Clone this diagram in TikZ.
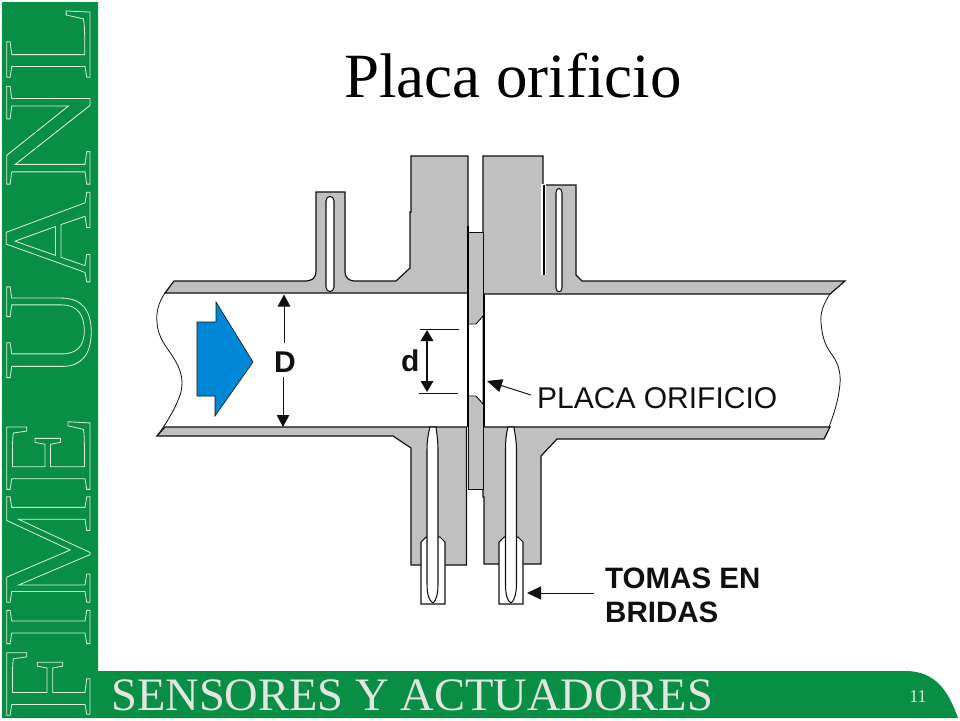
\documentclass[tikz,border=0pt]{standalone}
\usepackage{fontspec}
\setmainfont{Liberation Serif}
\newfontfamily\arialf{Liberation Sans}
\usetikzlibrary{arrows.meta}
\definecolor{uanlgreen}{HTML}{098F45}
\definecolor{bandtext}{HTML}{E2E6DE}
\definecolor{wall}{HTML}{C0C0C0}
\definecolor{flow}{HTML}{0088D6}
\definecolor{ink}{HTML}{101010}
\newcommand{\outlon}{\special{pdf:code 1 Tr 0.8 w 0.85 0.94 0.85 RG}}
\tikzset{
  wallshape/.style={fill=wall,draw=ink,line width=1.2pt,line join=miter},
  cutline/.style={draw=ink,line width=0.8pt},
  slotshape/.style={fill=white,draw=ink,line width=1.05pt},
  dimline/.style={draw=ink,line width=1pt},
  leader/.style={draw=ink,line width=0.95pt},
  labelreg/.style={inner sep=0pt,anchor=base west,text=ink,font=\arialf\fontsize{30}{30}\selectfont},
  labelbold/.style={inner sep=0pt,anchor=base west,text=ink,font=\arialf\bfseries\fontsize{29.5}{34}\selectfont,align=left},
  bigtip/.style={-{Triangle[length=12pt,width=12.5pt]}},
  x=1pt,y=-1pt
}
\begin{document}
\begin{tikzpicture}
\useasboundingbox (0,0) rectangle (960,720);
\fill[white] (0,0) rectangle (960,720);
% Green frame
\fill[uanlgreen] (2,2) -- (98,2) -- (98,671) -- (905,671)
  .. controls (935,671) and (948,690) .. (958,718) -- (2,718) -- cycle;
\node[rotate=90,anchor=base west,inner sep=0pt] (brand) at (90,719)
  {\fontsize{127}{127}\selectfont\special{pdf:code q}\outlon FIME\kern35pt\scalebox{1.05}[1]{\outlon U}\outlon\kern1pt A\kern3pt\scalebox{1.15}[1]{\outlon N}\outlon\kern2pt L\special{pdf:code Q}};
\node[anchor=base west,inner sep=0pt,text=bandtext] (course) at (111,710)
  {\fontsize{46.5}{46.5}\selectfont SENSORES Y ACTUADORES};
\node[anchor=center,inner sep=0pt,text=bandtext] (page) at (918,697) {\fontsize{18}{18}\selectfont 11};
% Title
\node[anchor=base west,inner sep=0pt,text=black] (title) at (344,97) {\fontsize{63}{63}\selectfont Placa orificio};
% Pipe ends (cut lines)
\draw[cutline] (165,293) .. controls (158,303) and (156,314) .. (157,322)
  .. controls (158,338) and (166,346) .. (173,357)
  .. controls (180,368) and (184,378) .. (181,392)
  .. controls (176,408) and (166,424) .. (157,436);
\draw[cutline] (830,294) .. controls (824,303) and (820,312) .. (821,322)
  .. controls (822,338) and (826,346) .. (830,352)
  .. controls (838,362) and (841,372) .. (840,384)
  .. controls (838,404) and (832,420) .. (824,439);
% Walls
\path[wallshape] (174,281) -- (304,281) .. controls (312,281) and (316,279) .. (316,270)
  -- (316,192) -- (345,192) -- (345,272) .. controls (345,278) and (350,281) .. (354,281)
  -- (396,281) -- (410,268) -- (410,212) -- (411,212) -- (411,156) -- (468,156)
  -- (468,293) -- (165,293) -- cycle;
\path[wallshape] (483,156) -- (543,156) -- (543,185) -- (576,185) -- (576,275) -- (582,281)
  -- (845,281) -- (830,294) -- (483,294) -- cycle;
\path[wallshape] (165,427) -- (466.5,427) -- (466.5,565) -- (411,565) -- (411,448)
  -- (393,436) -- (157,436) -- cycle;
\path[wallshape] (483,427) -- (830,427) -- (824,439) -- (557,439) -- (541,456) -- (541,564)
  -- (484,564) -- (484,497) -- (483,497) -- cycle;
% Top slots
\path[slotshape] (326,201) .. controls (326,195) and (334,195) .. (334,201) -- (334,287)
  .. controls (334,293) and (326,293) .. (326,287) -- cycle;
\path[slotshape] (556,193) .. controls (556,187) and (562,187) .. (562,193) -- (562,288)
  .. controls (562,293) and (556,293) .. (556,288) -- cycle;
\draw[white,line width=4.5pt] (543.5,184) -- (543.5,275);
\draw[black,line width=2.6pt] (544,185) -- (544,275);
% Plate
\path[fill=wall,draw=ink,line width=0.95pt] (468.5,232) -- (483,232) -- (483,489) -- (468.5,489) -- cycle;
\path[fill=white,draw=ink,line width=0.9pt] (468,324) -- (476,324) -- (483,316) -- (483,404) -- (476,396) -- (468,396) -- cycle;
\draw[black,line width=2.4pt] (468,226) -- (468,427);
\draw[black,line width=2.4pt] (484,294) -- (484,427);
% Bottom fittings and slots
\path[fill=white,draw=ink,line width=1.05pt] (421,604) -- (421,542) -- (426,537) -- (440,537) -- (445,542) -- (445,604) -- cycle;
\path[fill=white,draw=ink,line width=1.05pt] (499,604) -- (499,542) -- (504,537) -- (518,537) -- (523,542) -- (523,604) -- cycle;
\path[slotshape] (430,427) .. controls (428,435) and (427,441) .. (427,450) -- (427,584)
  .. controls (427,594) and (429,601) .. (433,603) .. controls (436,601) and (438,594) .. (438,584)
  -- (438,450) .. controls (438,441) and (437,435) .. (436,427) -- cycle;
\path[slotshape] (508,427) .. controls (506,435) and (505.5,441) .. (505.5,450) -- (505.5,584)
  .. controls (505.5,594) and (507,601) .. (511,603) .. controls (514,601) and (516.5,594) .. (516.5,584)
  -- (516.5,450) .. controls (516.5,441) and (515,435) .. (514,427) -- cycle;
% Flow arrow
\path[fill=flow,draw=ink,line width=0.6pt] (197,322) -- (216,322) -- (216,302) -- (253,362)
  -- (215,416) -- (215,396) -- (197,396) -- cycle;
% Labels
\node[inner sep=0pt,anchor=base,text=ink,font=\arialf\bfseries\fontsize{30}{30}\selectfont] (Dlab) at (285,372) {D};
\node[inner sep=0pt,anchor=base west,text=ink,font=\arialf\bfseries\fontsize{30}{30}\selectfont] (dlab) at (401,371) {d};
\node[labelreg] (placa) at (537,408) {PLACA ORIFICIO};
\node[labelbold] (tomas) at (605,622.5) {TOMAS EN\\BRIDAS};
% Dimension D
\coordinate (Dtop) at (284,294.5);
\coordinate (Dbot) at (283,427);
\draw[dimline,bigtip] (284,343) -- (Dtop);
\draw[dimline,bigtip] (283,377) -- (Dbot);
% Dimension d
\coordinate (ext1a) at (420,329); \coordinate (ext1b) at (459,329);
\coordinate (ext2a) at (419,393); \coordinate (ext2b) at (458,393);
\draw[ink,line width=0.9pt] (ext1a) -- (ext1b);
\draw[ink,line width=0.9pt] (ext2a) -- (ext2b);
\draw[ink,line width=2pt,{Triangle[length=11pt,width=12.5pt]}-{Triangle[length=11pt,width=12.5pt]}] (427,330) -- (427,392);
% Leaders
\coordinate (platetip) at (487,381);
\coordinate (platetail) at (531,395);
\draw[leader,-{Triangle[length=15pt,width=13pt]}] (platetail) -- (platetip);
\coordinate (tomastip) at (527,593);
\coordinate (tomastail) at (594,593);
\draw[leader,-{Triangle[length=14pt,width=13pt]}] (tomastail) -- (tomastip);
\end{tikzpicture}
\end{document}
